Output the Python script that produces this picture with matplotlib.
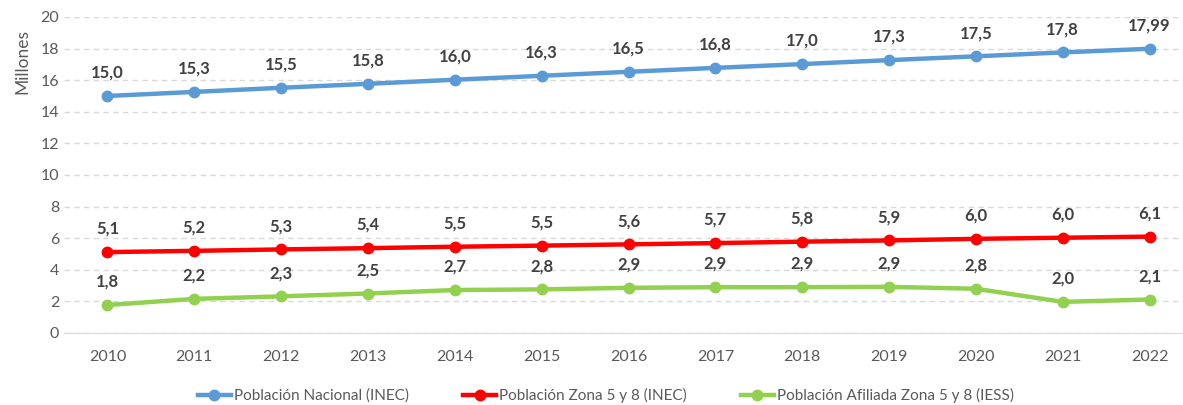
import matplotlib
matplotlib.use("Agg")
import matplotlib.pyplot as plt

years = [2010, 2011, 2012, 2013, 2014, 2015, 2016, 2017, 2018, 2019, 2020, 2021, 2022]
nacional = [15.0, 15.26, 15.52, 15.77, 16.03, 16.28, 16.53, 16.78, 17.02, 17.27, 17.51, 17.76, 17.99]
zona = [5.12, 5.2, 5.29, 5.37, 5.46, 5.53, 5.61, 5.69, 5.78, 5.86, 5.96, 6.03, 6.1]
afiliada = [1.77, 2.16, 2.32, 2.5, 2.72, 2.76, 2.86, 2.9, 2.9, 2.92, 2.8, 1.97, 2.12]
nacional_labels = ["15,0", "15,3", "15,5", "15,8", "16,0", "16,3", "16,5",
                   "16,8", "17,0", "17,3", "17,5", "17,8", "17,99"]

plt.rcParams['font.family'] = ['Lato', 'DejaVu Sans']

fig = plt.figure(figsize=(11.83, 4.05), dpi=100)
ax = fig.add_axes([64 / 1183, 1 - 333 / 405, (1193 - 64) / 1183, (333 - 17) / 405])

series = [
    (nacional, "#5B9BD5", "Población Nacional (INEC)", nacional_labels),
    (zona, "#FF0000", "Población Zona 5 y 8 (INEC)", None),
    (afiliada, "#92D050", "Población Afiliada Zona 5 y 8 (IESS)", None),
]

for vals, color, name, labels in series:
    ax.plot(years, vals, color=color, lw=3.2, marker="o", ms=7.5, label=name, zorder=3)
    if labels is None:
        labels = [f"{v:.1f}".replace(".", ",") for v in vals]
    for x, y, t in zip(years, vals, labels):
        ax.annotate(t, (x, y), xytext=(0, 11), textcoords="offset points",
                    ha="center", va="bottom", fontsize=12, fontweight="bold",
                    color="#404040")

ax.set_xlim(2009.5, 2022.5)
ax.set_ylim(0, 20)
ax.set_yticks(range(0, 21, 2))
ax.set_xticks(years)
ax.grid(axis="y", color="#D9D9D9", ls=(0, (4, 3)), lw=1)
ax.set_axisbelow(True)
for s in ["top", "right", "left"]:
    ax.spines[s].set_visible(False)
ax.spines["bottom"].set_color("#D9D9D9")
ax.tick_params(axis="both", length=0, labelsize=11.5, colors="#595959")
ax.tick_params(axis="x", pad=12)
ax.set_ylabel("Millones", fontsize=12.5, color="#595959")
ax.yaxis.set_label_coords(-0.03, 0.86)

ax.legend(loc="upper center", bbox_to_anchor=(0.48, -0.13), ncol=3, frameon=False,
          fontsize=11, labelcolor="#595959", handlelength=2.2, columnspacing=3.5,
          handletextpad=0.2)

fig.savefig("out.png", dpi=100)
